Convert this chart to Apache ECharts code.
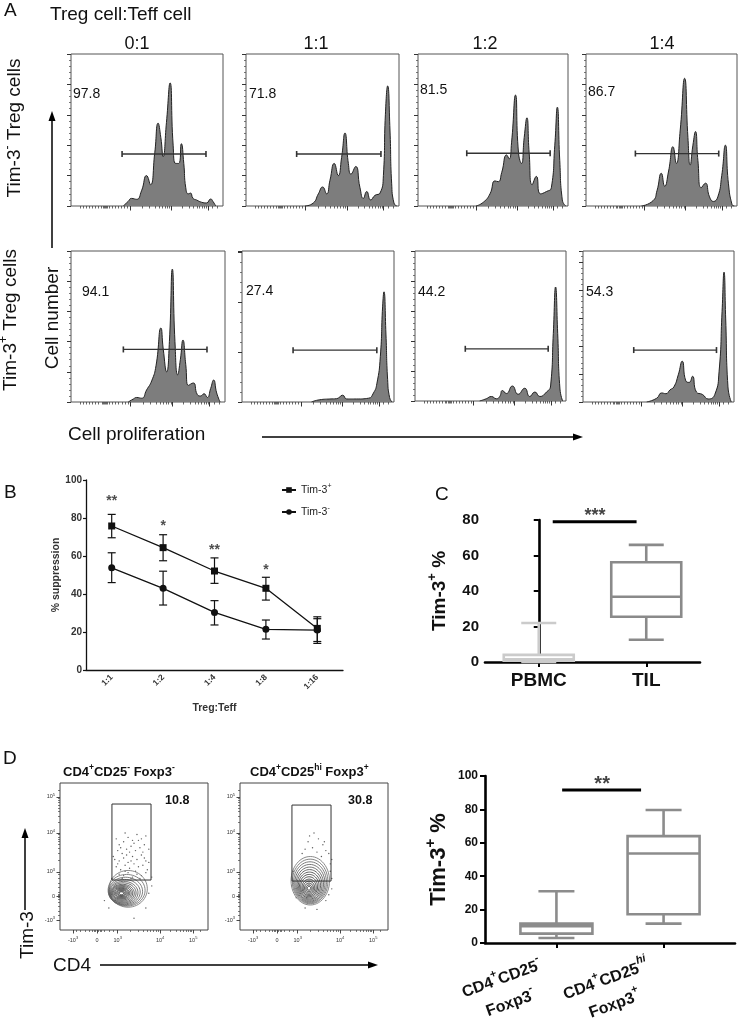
<!DOCTYPE html>
<html><head><meta charset="utf-8">
<script src="https://cdn.jsdelivr.net/npm/echarts@6/dist/echarts.min.js"></script>
<style>html,body{margin:0;padding:0;background:#fff}#c{width:738px;height:1020px}</style>
</head><body><div id="c"></div>
<script>
// ================= DATA =================
// Panel A: histograms, points are [x % of plot width, height % of plot height]
const ratioTitles = ['0:1', '1:1', '1:2', '1:4'];
const pctTop = ['97.8', '71.8', '81.5', '86.7'];
const pctBottom = ['94.1', '27.4', '44.2', '54.3'];
const histTop01 = [[34.4,0],[37.6,3],[39.8,5],[43.1,4.4],[46.4,10],[49.7,20],[52.3,14],[55.1,35],[57.3,54.5],[59.1,45],[60.6,32.5],[62.8,55],[65.2,81],[67.2,40],[68.9,28],[70.9,28],[72.6,41],[74.2,28],[75.5,12],[77.2,8],[78.6,8.5],[80.3,5],[82.5,4],[85.8,2.5],[89.1,2],[91.9,4.6],[93.4,3],[95.2,0]];
const histTop11 = [[38.6,0],[44,2],[47.3,8],[50.1,12.5],[52.7,8],[54.9,17],[57.7,28],[60.3,20],[62.5,32],[64.7,48],[66.9,28],[68.6,21],[71.7,26],[74.5,12],[76.7,5],[78.9,9.5],[81.5,4],[84.3,7],[87.6,8.5],[89.8,20],[91.1,60],[92.6,79],[94.1,50],[95.2,15],[96.7,2],[98.5,0]];
const histTop12 = [[38.7,0],[43.6,2.5],[48,8],[51.3,16.5],[53.5,16],[55.8,22],[59.1,33.6],[60.8,31],[62.4,42],[65,73],[67,35],[69,28],[70.8,45],[72.6,58],[74.1,35],[76.1,14],[78.9,19.5],[81.6,8],[85.6,9.5],[88.9,12],[91.2,40],[92.9,65],[94.5,30],[96.2,4],[98.5,0]];
const histTop14 = [[36.7,0],[44.4,3.5],[47,10],[49.9,21.5],[52.1,13],[54.7,23],[57.6,39],[59.8,28],[62.4,50],[65.3,84],[67.5,45],[69,27],[70.8,40],[72.5,49],[74.1,30],[76.3,12],[79.1,15],[81.8,6],[84.4,3],[87.3,6],[89.9,20],[92.3,40],[94.3,15],[96.7,1],[98.2,0]];
const histBot01 = [[37.2,0],[40.5,2],[42.6,3],[45.9,2.5],[49.1,8],[52.4,14],[55.2,24],[58.4,49],[59.9,35],[62.1,20],[63.9,40],[65.8,88],[67.5,40],[69.3,18],[71,28],[72.7,41],[74.5,25],[76.2,11],[79.4,12.6],[82,5],[84.2,4],[86.4,5.5],[88.5,3],[90.7,9],[92.6,14.5],[94.6,6],[96.8,0]];
const histBot11 = [[45.7,0],[51.2,1.5],[57.8,2],[62.3,2.2],[66.2,4.5],[68.9,2],[75.5,2],[83.2,2.5],[86.5,6],[88.7,12],[91,30],[92.5,63],[93.4,73],[94.7,45],[95.8,15],[97.1,3],[98.7,0]];
const histBot12 = [[42.8,0],[47.2,1.5],[50.6,3],[53.9,1.5],[56.1,3],[57.9,7],[60.5,5],[64.5,10],[68.3,4.5],[72.7,8.5],[76,3],[79.4,6],[82.7,3],[87.1,6],[89.8,10],[91.6,45],[93.1,76],[94.5,45],[96,8],[97.8,0]];
const histBot14 = [[42.2,0],[48.8,2.5],[52.1,6],[54.9,5.5],[57.6,8],[60.2,10],[63.1,18],[65.7,27],[68.1,14],[70.3,13],[72.5,17],[75.2,6.5],[79.1,5],[82.9,2],[87.3,5],[90.1,20],[92.1,60],[93.4,86],[94.5,55],[96,10],[98.2,0]];
// gates: [x start, x end, height]
const gateTop = [[33.6,88.8,34.2],[33.1,88.2,34.2],[32.5,88.1,34.7],[32.7,87.9,34.5]];
const gateBottom = [[34,88.3,34.8],[33.6,88.7,34.3],[33.3,88.2,34.8],[33.6,88.4,34.4]];
const yTickStepTop = [20, 20, 20, 20];
const yTickStepBottom = [20, 33, 20, 18.5];
const histXTicksMinor = [6,8,10,12,14,16,18,20,21,21.7,22.4,23.1,23.8,25,27,29,31,33,35,37,46.9,51.7,55.1,57.8,59.9,61.8,63.4,64.8,73.2,77.5,80.4,82.8,84.7,86.3,87.7,88.9,93,96];
const histXTicksMajor = [38.7, 66, 90];

// Panel B
const bCats = ['1:1', '1:2', '1:4', '1:8', '1:16'];
const bPlus = [75.8, 64.4, 52.1, 43, 21.9];
const bMinus = [53.8, 43, 30.3, 21.4, 21];
const bPlusErr = [[69.6,81.9],[57.5,71.2],[45.6,59],[36.8,48.8],[15,28]];
const bMinusErr = [[46,61.7],[34.2,52],[23.7,36.5],[16.3,26.3],[14,27]];
const bStars = ['**', '*', '**', '*'];
const bStarY = [90.5, 77.4, 64.7, 54.2];

// Panel C: [min, Q1, median, Q3, max]
const cCats = ['PBMC', 'TIL'];
const cBox = [[0, 0.8, 1.5, 4, 22], [12.5, 25.5, 36.8, 56.2, 66]];
const cSig = [0.13, 0.91, 79];
const cSigStar = [0.523, 84.5, '***'];

// Panel D contour plots (axes in % of plot box)
const dTitles = ['CD4{s|+}CD25{s|-} Foxp3{s|-}', 'CD4{s|+}CD25{si|hi} Foxp3{s|+}'];
const dGatePct = ['10.8', '30.8'];
const gateL = [35.1, 34, 61.5, 85.7];
const gateR = [35.1, 33.3, 61.5, 85];
const contourL = [[46,28,13,12.5],[45,27,12.5,10.8],[44.3,26.3,11.5,9.6],[43.6,25.8,10.6,8.6],[43,25.4,9.7,7.7],[42.6,25.2,8.8,6.9],[42.2,25,8,6.1],[41.9,25,7.2,5.4],[41.7,25,6.4,4.7],[41.5,25,5.6,4],[41.5,25,4.8,3.4],[41.5,25,4,2.8],[41.5,25,3.2,2.2],[41.5,25,2.4,1.6],[41.5,25,1.5,1]];
const contourR = [[47.5,33.5,13,16.5],[47.4,33,12,15.2],[47.3,32.4,11.1,14],[47.2,31.8,10.2,12.8],[47.1,31.2,9.3,11.6],[47,30.7,8.4,10.4],[46.9,30.2,7.5,9.2],[46.8,29.8,6.6,8],[46.7,29.4,5.7,6.8],[46.7,29,4.8,5.6],[46.6,28.7,3.9,4.5],[46.6,28.5,3,3.4],[46.6,28.4,2.1,2.3],[46.6,28.4,1.2,1.3]];
const dotsL = [[38,62],[40,58],[43,60],[46,63],[49,61],[52,65],[55,62],[58,64],[39,54],[42,52],[45,55],[48,57],[51,54],[54,56],[57,58],[60,55],[37,48],[40,47],[43,49],[46,46],[49,50],[52,48],[55,51],[58,47],[38,43],[41,41],[44,44],[47,42],[50,45],[53,43],[56,44],[59,41],[40,38],[43,37],[46,39],[49,36],[52,38],[55,37],[58,39],[42,35],[48,35],[54,35],[45,51],[50,59],[44,66],[56,53],[39,45],[53,61],[47,53],[41,56],[57,49],[51,40],[36,50],[60,46],[44,40],[48,47],[30,20],[33,15],[60,25],[62,30],[58,15],[50,8],[35,35],[62,36]];
const dotsR = [[50,66],[53,62],[46,60],[56,58],[49,56],[58,54],[44,55],[52,53],[60,52],[55,50],[42,52],[47,64],[57,60],[61,45],[61,40],[62,35],[36,40],[35,30],[60,24],[62,28],[58,20],[38,22],[44,15],[52,14],[62,48]];
const dXTickLabels = ['-10{s|3}', '0', '10{s|3}', '10{s|4}', '10{s|5}'];
const dXTicksMajor = [8.8, 25, 39, 67.6, 90];
const dYTicksMajor = [6.8, 23, 39.5, 66, 90.5];
const dXTicksMinor = [11,14,17,20,22,23,24,26,27,28,30,33,36,47.6,52.6,56.2,59,61.3,63.2,64.8,66.3,74.3,78.3,81.1,83.3,85,86.5,87.8,88.9,95];
const dYTicksMinor = [10,13,16,19,21,22,23.5,24.5,26,29,32,35,38,47.5,52.1,55.5,58,60.1,61.9,63.4,64.8,73.4,77.7,80.8,83.1,85.1,86.7,88.1,89.4,95];

// Panel D box plot
const dCats = ['{n|CD4}{s|+}{n|CD25}{s|-}\n{n|Foxp3}{s|-}', '{n|CD4}{s|+}{n|CD25}{si|hi}\n{n|Foxp3}{s|+}'];
const dCatPos = [2, 5];
const dBox = [[3, 5.6, 10, 11.6, 31], [11.6, 17.2, 53.6, 64, 79.6]];
const dSig = [2.16, 4.37, 91.6];
const dSigStar = [3.28, 98.2, '**'];

// ================= BUILD =================
const FONT = "'Liberation Sans', Arial, Helvetica, sans-serif";
const grids = [], xAxes = [], yAxes = [], series = [], graphics = [];
function addGrid(g) { g.outerBoundsMode = 'none'; g.containLabel = false; grids.push(g); return grids.length - 1; }
function addX(a) { xAxes.push(a); return xAxes.length - 1; }
function addY(a) { yAxes.push(a); return yAxes.length - 1; }
const off = { show: false };

// ---- Panel A ----
const histRects = [[71,54,152,152],[246,54,153,152],[418,54,150,152],[586,54,151,152],[71,251,154,151],[242,251,152,151],[415,251,151,150],[583,251,151,151]];
const histData = [histTop01, histTop11, histTop12, histTop14, histBot01, histBot11, histBot12, histBot14];
const histGates = gateTop.concat(gateBottom);
const histYStep = yTickStepTop.concat(yTickStepBottom);
histRects.forEach((r, i) => {
  const gi = addGrid({ left: r[0], top: r[1], width: r[2], height: r[3], show: true, borderColor: '#555', borderWidth: 1, backgroundColor: 'transparent' });
  const xi = addX({ gridIndex: gi, type: 'value', position: 'bottom', min: 0, max: 100, axisLine: off, splitLine: off, axisLabel: off,
    axisTick: { show: true, length: 2.5, customValues: histXTicksMinor, lineStyle: { color: '#444', width: 0.8 } } });
  addX({ gridIndex: gi, type: 'value', position: 'bottom', min: 0, max: 100, axisLine: off, splitLine: off, axisLabel: off,
    axisTick: { show: true, length: 4.5, customValues: histXTicksMajor, lineStyle: { color: '#333', width: 1 } } });
  const yi = addY({ gridIndex: gi, type: 'value', position: 'left', min: 0, max: 100, interval: histYStep[i], axisLine: off, splitLine: off, axisLabel: off,
    axisTick: { show: true, length: 4, lineStyle: { color: '#333', width: 1 } },
    minorTick: { show: true, splitNumber: 5, length: 2, lineStyle: { color: '#555', width: 0.8 } } });
  series.push({ type: 'line', xAxisIndex: xi, yAxisIndex: yi, data: histData[i], smooth: 0.55, symbol: 'none', showSymbol: false,
    lineStyle: { color: '#222', width: 1 }, areaStyle: { color: '#7d7d7d', opacity: 1 }, silent: true, z: 2 });
  const g = histGates[i];
  series.push({ type: 'line', xAxisIndex: xi, yAxisIndex: yi, data: [[g[0], g[2]], [g[1], g[2]]], symbol: 'rect', symbolSize: [1.6, 6], showSymbol: true,
    lineStyle: { color: '#333', width: 1.3 }, itemStyle: { color: '#333' }, silent: true, z: 4 });
});

// ---- Panel B ----
const gB = addGrid({ left: 86, top: 480, width: 257, height: 190 });
const xB = addX({ gridIndex: gB, type: 'category', data: bCats, boundaryGap: true, position: 'bottom',
  axisLine: { lineStyle: { color: '#111', width: 1.3 } }, axisTick: { alignWithLabel: true, length: 3, lineStyle: { color: '#111', width: 1.2 } },
  axisLabel: { rotate: 45, fontSize: 8.5, fontWeight: 'bold', color: '#333', margin: 6, fontFamily: FONT },
  name: 'Treg:Teff', nameLocation: 'middle', nameGap: 33, nameTextStyle: { fontSize: 10.5, fontWeight: 'bold', color: '#333', fontFamily: FONT } });
const yB = addY({ gridIndex: gB, type: 'value', min: 0, max: 100, interval: 20, position: 'left',
  axisLine: { show: true, lineStyle: { color: '#111', width: 1.3 } }, axisTick: { show: true, length: 3, lineStyle: { color: '#111', width: 1.2 } },
  splitLine: off, axisLabel: { fontSize: 10, fontWeight: 'bold', color: '#333', margin: 4, fontFamily: FONT },
  name: '% suppression', nameLocation: 'middle', nameGap: 18, nameTextStyle: { fontSize: 10.5, fontWeight: 'bold', color: '#333', fontFamily: FONT } });
function errRender(params, api) {
  const x = api.value(0);
  const lo = api.coord([x, api.value(1)]), hi = api.coord([x, api.value(2)]);
  const w = 4, st = { stroke: '#111', lineWidth: 1.2 };
  return { type: 'group', children: [
    { type: 'line', shape: { x1: lo[0], y1: lo[1], x2: hi[0], y2: hi[1] }, style: st },
    { type: 'line', shape: { x1: lo[0] - w, y1: lo[1], x2: lo[0] + w, y2: lo[1] }, style: st },
    { type: 'line', shape: { x1: hi[0] - w, y1: hi[1], x2: hi[0] + w, y2: hi[1] }, style: st } ] };
}
series.push({ type: 'custom', xAxisIndex: xB, yAxisIndex: yB, renderItem: errRender, encode: { x: 0, y: [1, 2] },
  data: bPlusErr.map((e, i) => [i, e[0], e[1]]), silent: true, z: 3 });
series.push({ type: 'custom', xAxisIndex: xB, yAxisIndex: yB, renderItem: errRender, encode: { x: 0, y: [1, 2] },
  data: bMinusErr.map((e, i) => [i, e[0], e[1]]), silent: true, z: 3 });
series.push({ name: 'Tim-3+', type: 'line', xAxisIndex: xB, yAxisIndex: yB, data: bPlus, symbol: 'rect', symbolSize: 7, showSymbol: true,
  lineStyle: { color: '#111', width: 1.3 }, itemStyle: { color: '#111' }, z: 4 });
series.push({ name: 'Tim-3-', type: 'line', xAxisIndex: xB, yAxisIndex: yB, data: bMinus, symbol: 'circle', symbolSize: 7, showSymbol: true,
  lineStyle: { color: '#111', width: 1.3 }, itemStyle: { color: '#111' }, z: 4 });
series.push({ type: 'scatter', xAxisIndex: xB, yAxisIndex: yB, data: bStars.map((s, i) => [i, bStarY[i]]), symbolSize: 0, clip: false, silent: true,
  label: { show: true, position: 'inside', offset: [0, 3.5], formatter: p => bStars[p.dataIndex], fontSize: 14, fontWeight: 'bold', color: '#222', fontFamily: FONT } });

// ---- Box renderer ----
function boxRender(widthPx, colors) {
  return function (params, api) {
    const x = api.value(0);
    const p = [1, 2, 3, 4, 5].map(k => api.coord([x, api.value(k)]));
    const cx = p[0][0], hw = widthPx / 2, cw = widthPx / 4;
    const col = colors[params.dataIndex];
    const ls = { stroke: col, lineWidth: 2.6 };
    return { type: 'group', children: [
      { type: 'line', shape: { x1: cx, y1: p[4][1], x2: cx, y2: p[3][1] }, style: ls },
      { type: 'line', shape: { x1: cx, y1: p[1][1], x2: cx, y2: p[0][1] }, style: ls },
      { type: 'line', shape: { x1: cx - cw, y1: p[4][1], x2: cx + cw, y2: p[4][1] }, style: ls },
      { type: 'line', shape: { x1: cx - cw, y1: p[0][1], x2: cx + cw, y2: p[0][1] }, style: ls },
      { type: 'rect', shape: { x: cx - hw, y: p[3][1], width: widthPx, height: p[1][1] - p[3][1] }, style: { stroke: col, lineWidth: 2.6, fill: '#fff' } },
      { type: 'line', shape: { x1: cx - hw, y1: p[2][1], x2: cx + hw, y2: p[2][1] }, style: ls } ] };
  };
}
const supRich = (size) => ({ s: { fontSize: size, fontWeight: 'bold', fontFamily: FONT, color: '#111', verticalAlign: 'top' },
  si: { fontSize: size, fontWeight: 'bold', fontStyle: 'italic', fontFamily: FONT, color: '#111', verticalAlign: 'top' } });

// ---- Panel C ----
const gC = addGrid({ left: 485, top: 520, width: 215, height: 142 });
const xC = addX({ gridIndex: gC, type: 'value', min: -0.5, max: 1.5, position: 'bottom', splitLine: off,
  axisLine: { show: true, lineStyle: { color: '#000', width: 2.6 } },
  axisTick: { show: true, customValues: [0, 1], length: 5, lineStyle: { color: '#000', width: 2 } },
  axisLabel: { show: true, customValues: [0, 1], showMinLabel: true, showMaxLabel: true, formatter: v => cCats[Math.round(v)], fontSize: 19, fontWeight: 'bold', color: '#111', margin: 9, fontFamily: FONT } });
const yC = addY({ gridIndex: gC, type: 'value', min: 0, max: 80, interval: 20, position: 'left', splitLine: off,
  axisLine: { show: true, lineStyle: { color: '#000', width: 2.6 } }, axisTick: { show: true, length: 5, lineStyle: { color: '#000', width: 2 } },
  axisLabel: { fontSize: 15, fontWeight: 'bold', color: '#111', margin: 6, fontFamily: FONT },
  name: 'Tim-3{s|+} %', nameLocation: 'middle', nameGap: 32,
  nameTextStyle: { fontSize: 19, fontWeight: 'bold', color: '#111', fontFamily: FONT, lineHeight: 27, rich: supRich(13) } });
series.push({ type: 'custom', xAxisIndex: xC, yAxisIndex: yC, renderItem: boxRender(70, ['#cbcbcb', '#8a8a8a']), encode: { x: 0, y: [1, 2, 3, 4, 5] },
  data: cBox.map((b, i) => [i].concat(b)), silent: true, clip: false, z: 3 });
series.push({ type: 'line', xAxisIndex: xC, yAxisIndex: yC, data: [[cSig[0], cSig[2]], [cSig[1], cSig[2]]], symbol: 'none', lineStyle: { color: '#000', width: 3 }, silent: true, clip: false });
series.push({ type: 'scatter', xAxisIndex: xC, yAxisIndex: yC, data: [[cSigStar[0], cSigStar[1]]], symbolSize: 0, clip: false, silent: true,
  label: { show: true, position: 'inside', offset: [0, 4.5], formatter: cSigStar[2], fontSize: 18, fontWeight: 'bold', color: '#111', fontFamily: FONT } });

// ---- Panel D contour plots ----
function ellipseRender(colors) {
  return function (params, api) {
    const cx = api.value(0), cy = api.value(1), rx = api.value(2), ry = api.value(3);
    const pts = [];
    for (let k = 0; k < 56; k++) { const t = k / 56 * Math.PI * 2; pts.push(api.coord([cx + rx * Math.cos(t), cy + ry * Math.sin(t)])); }
    return { type: 'polygon', shape: { points: pts }, style: { fill: 'none', stroke: colors[params.dataIndex], lineWidth: 0.9 } };
  };
}
function shades(n) { const out = []; for (let i = 0; i < n; i++) { const v = Math.round(125 - 105 * i / (n - 1)); out.push('rgb(' + v + ',' + v + ',' + v + ')'); } return out; }
const tinyRich = { s: { fontSize: 4, fontFamily: FONT, color: '#333', verticalAlign: 'top' } };
[[60, contourL, dotsL, gateL], [240, contourR, dotsR, gateR]].forEach(([left, cont, dots, gate]) => {
  const gi = addGrid({ left: left, top: 783, width: 148, height: 147, show: true, borderColor: '#444', borderWidth: 1, backgroundColor: 'transparent' });
  const xi = addX({ gridIndex: gi, type: 'value', min: 0, max: 100, position: 'bottom', axisLine: off, splitLine: off,
    axisTick: { show: true, customValues: dXTicksMajor, length: 3.5, lineStyle: { color: '#333', width: 0.9 } },
    axisLabel: { show: true, customValues: dXTicksMajor, showMinLabel: true, showMaxLabel: true, formatter: v => dXTickLabels[dXTicksMajor.indexOf(v)], fontSize: 5.5, color: '#333', margin: 6, lineHeight: 8, rich: tinyRich, fontFamily: FONT } });
  addX({ gridIndex: gi, type: 'value', min: 0, max: 100, position: 'bottom', axisLine: off, splitLine: off, axisLabel: off,
    axisTick: { show: true, customValues: dXTicksMinor, length: 2, lineStyle: { color: '#444', width: 0.7 } } });
  const yi = addY({ gridIndex: gi, type: 'value', min: 0, max: 100, position: 'left', axisLine: off, splitLine: off,
    axisTick: { show: true, customValues: dYTicksMajor, length: 3.5, lineStyle: { color: '#333', width: 0.9 } },
    axisLabel: { show: true, customValues: dYTicksMajor, showMinLabel: true, showMaxLabel: true, formatter: v => dXTickLabels[dYTicksMajor.indexOf(v)], fontSize: 5.5, color: '#333', margin: 5, lineHeight: 8, rich: tinyRich, fontFamily: FONT } });
  addY({ gridIndex: gi, type: 'value', min: 0, max: 100, position: 'left', axisLine: off, splitLine: off, axisLabel: off,
    axisTick: { show: true, customValues: dYTicksMinor, length: 2, lineStyle: { color: '#444', width: 0.7 } } });
  series.push({ type: 'scatter', xAxisIndex: xi, yAxisIndex: yi, data: dots, symbolSize: 1.4, itemStyle: { color: '#333' }, silent: true, z: 2 });
  series.push({ type: 'custom', xAxisIndex: xi, yAxisIndex: yi, renderItem: ellipseRender(shades(cont.length)), encode: { x: 0, y: 1 }, data: cont, silent: true, z: 3 });
  series.push({ type: 'line', xAxisIndex: xi, yAxisIndex: yi, data: [[gate[0], gate[1]], [gate[2], gate[1]], [gate[2], gate[3]], [gate[0], gate[3]], [gate[0], gate[1]]],
    symbol: 'none', lineStyle: { color: '#333', width: 1 }, silent: true, z: 4 });
});

// ---- Panel D box plot ----
const dLabRich = {
  n: { fontSize: 16, fontWeight: 'bold', fontFamily: FONT, color: '#111', align: 'center' },
  s: { fontSize: 11, fontWeight: 'bold', fontFamily: FONT, color: '#111', verticalAlign: 'top', align: 'center' },
  si: { fontSize: 11, fontWeight: 'bold', fontStyle: 'italic', fontFamily: FONT, color: '#111', verticalAlign: 'top', align: 'center' } };
const gD = addGrid({ left: 485, top: 776, width: 250, height: 167 });
const xD = addX({ gridIndex: gD, type: 'value', min: 0, max: 7, position: 'bottom', splitLine: off,
  axisLine: { show: true, lineStyle: { color: '#000', width: 2.6 } },
  axisTick: { show: true, customValues: dCatPos, length: 5, lineStyle: { color: '#000', width: 2 } },
  axisLabel: { show: false } });
// one label-only axis per category (avoids overlap-based hiding)
dCatPos.forEach((pos, k) => {
  addX({ gridIndex: gD, type: 'value', min: 0, max: 7, position: 'bottom', splitLine: off, axisLine: off, axisTick: off,
    axisLabel: { show: true, customValues: [pos], showMinLabel: true, showMaxLabel: true, formatter: () => dCats[k], rotate: 20,
      fontSize: 16, fontWeight: 'bold', color: '#111', margin: 30, lineHeight: 26, padding: [0, 12, 0, 0], fontFamily: FONT, rich: dLabRich } });
});
const yD = addY({ gridIndex: gD, type: 'value', min: 0, max: 100, interval: 20, position: 'left', splitLine: off,
  axisLine: { show: true, lineStyle: { color: '#000', width: 2.6 } }, axisTick: { show: true, length: 5, lineStyle: { color: '#000', width: 2 } },
  axisLabel: { fontSize: 12, fontWeight: 'bold', color: '#111', margin: 7, fontFamily: FONT },
  name: 'Tim-3{s|+} %', nameLocation: 'middle', nameGap: 29,
  nameTextStyle: { fontSize: 22, fontWeight: 'bold', color: '#111', fontFamily: FONT, lineHeight: 31, rich: supRich(15) } });
series.push({ type: 'custom', xAxisIndex: xD, yAxisIndex: yD, renderItem: boxRender(72, ['#8c8c8c', '#8c8c8c']), encode: { x: 0, y: [1, 2, 3, 4, 5] },
  data: dBox.map((b, i) => [dCatPos[i]].concat(b)), silent: true, clip: false, z: 3 });
series.push({ type: 'line', xAxisIndex: xD, yAxisIndex: yD, data: [[dSig[0], dSig[2]], [dSig[1], dSig[2]]], symbol: 'none', lineStyle: { color: '#000', width: 3 }, silent: true, clip: false });
series.push({ type: 'scatter', xAxisIndex: xD, yAxisIndex: yD, data: [[dSigStar[0], dSigStar[1]]], symbolSize: 0, clip: false, silent: true,
  label: { show: true, position: 'inside', offset: [0, 5], formatter: dSigStar[2], fontSize: 20, fontWeight: 'bold', color: '#111', fontFamily: FONT } });

// ---- Text and arrows ----
function txt(x, y, text, size, o) {
  o = o || {};
  graphics.push({ type: 'text', x: x, y: y, rotation: o.rot || 0, silent: true, z: 10,
    style: { text: text, fontSize: size, fontWeight: o.bold ? 'bold' : 'normal', fontFamily: FONT, fill: o.color || '#111',
      align: o.align || 'left', verticalAlign: 'middle', lineHeight: o.lh || undefined, rich: o.rich } });
}
function arrow(x1, y1, x2, y2) {
  const a = Math.atan2(y2 - y1, x2 - x1), L = 10, W = 3.5;
  const bx = x2 - L * Math.cos(a), by = y2 - L * Math.sin(a);
  graphics.push({ type: 'line', silent: true, shape: { x1: x1, y1: y1, x2: bx, y2: by }, style: { stroke: '#000', lineWidth: 1.5 } });
  graphics.push({ type: 'polygon', silent: true, shape: { points: [[x2, y2], [bx - W * Math.sin(a), by + W * Math.cos(a)], [bx + W * Math.sin(a), by - W * Math.cos(a)]] }, style: { fill: '#000' } });
}
const aRich = { s: { fontSize: 12, fontFamily: FONT, fill: '#111', verticalAlign: 'top' } };
txt(4, 11, 'A', 19);
txt(50, 15, 'Treg cell:Teff cell', 19);
const titleX = [137, 316, 485, 662];
ratioTitles.forEach((t, i) => txt(titleX[i], 44, t, 18, { align: 'center' }));
txt(15, 128, 'Tim-3{s|-} Treg cells', 19, { align: 'center', rot: Math.PI / 2, rich: aRich, lh: 27 });
txt(11, 320, 'Tim-3{s|+} Treg cells', 19, { align: 'center', rot: Math.PI / 2, rich: aRich, lh: 27 });
txt(53, 318, 'Cell number', 19, { align: 'center', rot: Math.PI / 2 });
txt(68, 435, 'Cell proliferation', 19);
arrow(52, 248, 52, 111);
arrow(262, 437, 583, 437);
const pctPosTop = [[73, 94], [249, 94], [420, 90], [588, 92]];
const pctPosBot = [[82, 292], [246, 291], [418, 292], [586, 292]];
pctTop.forEach((t, i) => txt(pctPosTop[i][0], pctPosTop[i][1], t, 14));
pctBottom.forEach((t, i) => txt(pctPosBot[i][0], pctPosBot[i][1], t, 14));
txt(4, 493, 'B', 19);
txt(435, 495, 'C', 19);
txt(3, 759, 'D', 19);
const dRich = { s: { fontSize: 8.5, fontWeight: 'bold', fontFamily: FONT, fill: '#111', verticalAlign: 'top' }, si: { fontSize: 8.5, fontWeight: 'bold', fontFamily: FONT, fill: '#111', verticalAlign: 'top' } };
txt(63, 772, dTitles[0], 13, { bold: true, rich: dRich, lh: 18 });
txt(250, 772, dTitles[1], 13, { bold: true, rich: dRich, lh: 18 });
txt(165, 801, dGatePct[0], 12.5, { bold: true });
txt(348, 801, dGatePct[1], 12.5, { bold: true });
txt(28, 935, 'Tim-3', 19, { align: 'center', rot: Math.PI / 2 });
txt(53, 966, 'CD4', 19);
arrow(25, 910, 25, 828);
arrow(100, 965, 378, 965);

const option = {
  backgroundColor: '#fff', animation: false, textStyle: { fontFamily: FONT },
  legend: { data: ['Tim-3+', 'Tim-3-'], orient: 'vertical', left: 276, top: 478, itemGap: 8, itemWidth: 14, itemHeight: 7,
    formatter: n => n === 'Tim-3+' ? 'Tim-3{s|+}' : 'Tim-3{s|-}',
    textStyle: { fontSize: 10.5, color: '#222', fontFamily: FONT, lineHeight: 14, rich: { s: { fontSize: 7, color: '#222', fontFamily: FONT, verticalAlign: 'top' } } } },
  grid: grids, xAxis: xAxes, yAxis: yAxes, series: series, graphic: graphics
};
const chart = echarts.init(document.getElementById('c'), null, { renderer: 'canvas' });
chart.setOption(option);
</script></body></html>
